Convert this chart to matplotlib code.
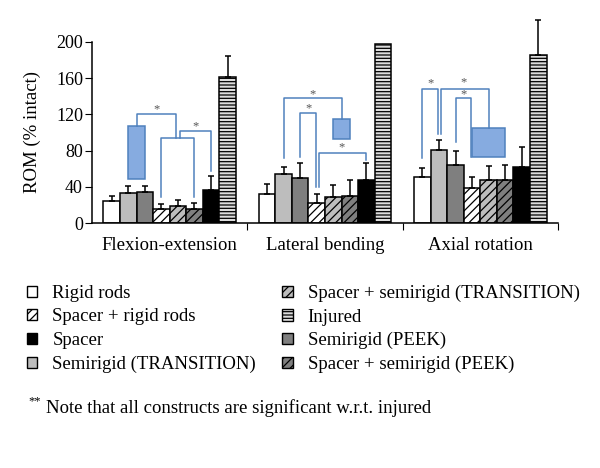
import matplotlib
matplotlib.use("Agg")
import matplotlib.pyplot as plt
import matplotlib.patches as mpatches
import numpy as np

plt.rcParams["font.family"] = "serif"
plt.rcParams["font.serif"] = ["Liberation Serif", "DejaVu Serif"]
plt.rcParams["hatch.linewidth"] = 0.9

# ── data ────────────────────────────────────────────────────────────────────
groups = ["Flexion-extension", "Lateral bending", "Axial rotation"]
constructs = ["Rigid rods", "Semirigid (TRANSITION)", "Semirigid (PEEK)",
              "Spacer + rigid rods", "Spacer + semirigid (TRANSITION)",
              "Spacer + semirigid (PEEK)", "Spacer", "Injured"]

# mean ROM (% intact), one list per construct: [flex-ext, lat bend, axial rot]
rigid_rods      = [24, 32, 51]
semi_transition = [33, 54, 81]
semi_peek       = [34, 50, 64]
spacer_rigid    = [15, 22, 39]
spacer_trans    = [19, 29, 47]
spacer_peek     = [16, 30, 47]
spacer          = [37, 47, 62]
injured         = [161, 198, 186]

# upper error (SD)
rigid_rods_sd      = [5.5, 11, 10]
semi_transition_sd = [8, 8, 11]
semi_peek_sd       = [7, 16, 16]
spacer_rigid_sd    = [5.5, 9.5, 12]
spacer_trans_sd    = [6.5, 12.5, 16]
spacer_peek_sd     = [6, 17, 17]
spacer_sd          = [15, 19, 22]
injured_sd         = [24, 0, 38]

means = [rigid_rods, semi_transition, semi_peek, spacer_rigid,
         spacer_trans, spacer_peek, spacer, injured]
sds = [rigid_rods_sd, semi_transition_sd, semi_peek_sd, spacer_rigid_sd,
       spacer_trans_sd, spacer_peek_sd, spacer_sd, injured_sd]

# bar styles (facecolor, hatch)
styles = [("white", ""), ("#bdbdbd", ""), ("#7f7f7f", ""),
          ("white", "////"), ("#bdbdbd", "////"), ("#7f7f7f", "////"),
          ("black", ""), ("#dcdcdc", "-----")]

legend_order = [0, 3, 6, 1, 4, 7, 2, 5]

BLUE = "#4f81bd"
BOX = "#86abe0"
FS = 13.5

# ── figure ──────────────────────────────────────────────────────────────────
fig = plt.figure(figsize=(6, 4.68), dpi=100)
ax = fig.add_axes([0.1533, 0.5235, 0.7767, 0.3868])

w = 0.1065
xg = np.arange(len(groups))


def xc(g, i):
    return g + (i - 3.5) * w


for i, (vals, err) in enumerate(zip(means, sds)):
    fc, hatch = styles[i]
    x = xg + (i - 3.5) * w
    ax.bar(x, vals, w, color=fc, hatch=hatch, edgecolor="black",
           linewidth=1.1, zorder=2)
    err = np.array(err, dtype=float)
    keep = err > 0
    ax.errorbar(x[keep], np.array(vals)[keep],
                yerr=[np.zeros(keep.sum()), err[keep]],
                fmt="none", ecolor="black", elinewidth=1.1, capsize=2.5,
                capthick=1.1, zorder=3, clip_on=False)


# ── significance brackets ───────────────────────────────────────────────────
def path(pts):
    xs, ys = zip(*pts)
    ax.plot(xs, ys, color=BLUE, linewidth=1.1, zorder=4, clip_on=False)


def star(x, y):
    ax.text(x, y, "*", ha="center", va="bottom", fontsize=9,
            color="#555555", zorder=5)


def box(x0, x1, y0, y1):
    ax.add_patch(mpatches.Rectangle((x0, y0), x1 - x0, y1 - y0,
                                    facecolor=BOX, edgecolor=BLUE,
                                    linewidth=1.1, zorder=4))


d = 0.012
# flexion-extension
box(xc(0, 1), xc(0, 2), 49, 107)
m1 = (xc(0, 1) + xc(0, 2)) / 2
m2 = (xc(0, 3) + xc(0, 5)) / 2
path([(m1, 107), (m1, 120), (m2 - d, 120), (m2 - d, 93.6)])
star((m1 + m2 - d) / 2, 118.5)
path([(xc(0, 3), 28.6), (xc(0, 3), 93.6), (xc(0, 5), 93.6), (xc(0, 5), 28.6)])
path([(m2 + d, 93.6), (m2 + d, 101.7), (xc(0, 6), 101.7), (xc(0, 6), 57)])
star((m2 + d + xc(0, 6)) / 2, 100)

# lateral bending
box(xc(1, 4), xc(1, 5), 93, 114.5)
mb = (xc(1, 4) + xc(1, 5)) / 2
path([(xc(1, 1), 72), (xc(1, 1), 137.6), (mb, 137.6), (mb, 114.5)])
star((xc(1, 1) + mb) / 2, 136)
path([(xc(1, 2), 73), (xc(1, 2), 122), (xc(1, 3) - d / 2, 122),
      (xc(1, 3) - d / 2, 40)])
star((xc(1, 2) + xc(1, 3)) / 2, 120.5)
path([(xc(1, 3) + d, 40), (xc(1, 3) + d, 77.8), (xc(1, 6), 77.8),
      (xc(1, 6), 69.7)])
star((xc(1, 3) + xc(1, 6)) / 2, 76.5)

# axial rotation
box(xc(2, 3), xc(2, 5), 73.4, 104.6)
mc = (xc(2, 3) + xc(2, 5)) / 2
path([(xc(2, 0), 71.6), (xc(2, 0), 148.3), (xc(2, 1) - d / 2, 148.3),
      (xc(2, 1) - d / 2, 98.3)])
star((xc(2, 0) + xc(2, 1)) / 2, 147.5)
path([(xc(2, 1) + d, 98.3), (xc(2, 1) + d, 148.3), (mc, 148.3), (mc, 104.6)])
star((xc(2, 1) + mc) / 2, 148.5)
path([(xc(2, 2), 89.9), (xc(2, 2), 137.6), (xc(2, 3) - d / 2, 137.6),
      (xc(2, 3) - d / 2, 72.7)])
star((xc(2, 2) + xc(2, 3)) / 2, 135)

# ── axes styling ────────────────────────────────────────────────────────────
ax.set_xlim(-0.5, 2.5)
ax.set_ylim(0, 200)
ax.set_yticks(np.arange(0, 201, 40))
ax.set_ylabel("ROM (% intact)", fontsize=FS, labelpad=11)
ax.set_xticks([0.5, 1.5, 2.5])
ax.set_xticklabels([])
ax.set_xticks(xg, minor=True)
ax.set_xticklabels(groups, minor=True, fontsize=FS)
ax.tick_params(axis="x", which="minor", length=0, pad=10)
ax.tick_params(axis="x", which="major", length=5, direction="out")
ax.tick_params(axis="y", labelsize=13, length=5, pad=1.5, direction="out")
for s in ["top", "right"]:
    ax.spines[s].set_visible(False)
for s in ["left", "bottom"]:
    ax.spines[s].set_linewidth(1.1)

# ── legend ──────────────────────────────────────────────────────────────────
handles = []
labels = []
for i in legend_order:
    fc, hatch = styles[i]
    handles.append(mpatches.Patch(facecolor=fc, hatch=hatch,
                                  edgecolor="black", linewidth=1.0))
    labels.append(constructs[i])
fig.legend(handles, labels, loc="upper left", bbox_to_anchor=(0.045, 0.392),
           ncol=2, frameon=False, fontsize=FS, handlelength=0.55,
           handleheight=0.55, handletextpad=0.8, columnspacing=1.4,
           labelspacing=0.355, borderaxespad=0, borderpad=0)

fig.text(0.047, 0.142, "**", fontsize=9, va="center", ha="left")
fig.text(0.077, 0.128, "Note that all constructs are significant w.r.t. injured",
         fontsize=FS, va="center", ha="left")

fig.savefig("out.png", dpi=100)
